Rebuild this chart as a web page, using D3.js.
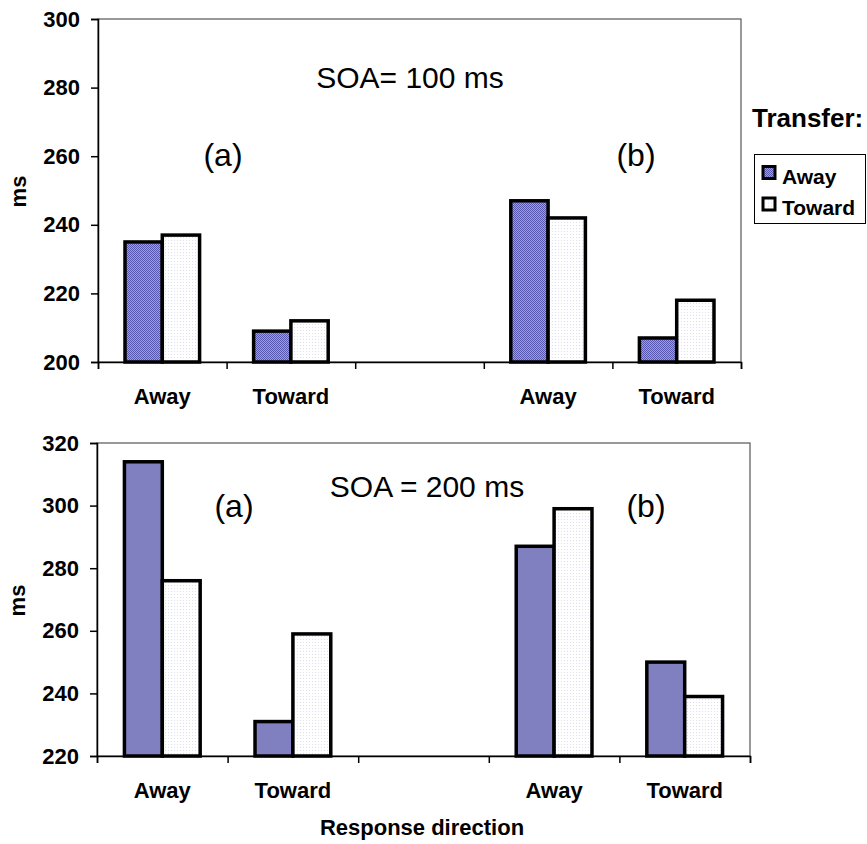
<!DOCTYPE html>
<html>
<head>
<meta charset="utf-8">
<script src="https://cdn.jsdelivr.net/npm/d3@7"></script>
<style>
  body { margin: 0; background: #fff; }
  svg { display: block; font-family: Arial, "Liberation Sans", sans-serif; }
</style>
</head>
<body>
<svg width="867" height="844"></svg>
<script>
// data
const categories = ["Away", "Toward", "", "Away", "Toward"];
const seriesNames = ["Away", "Toward"];

const soa100Away   = [235, 209, null, 247, 207];
const soa100Toward = [237, 212, null, 242, 218];
const soa200Away   = [314, 231, null, 287, 250];
const soa200Toward = [276, 259, null, 299, 239];

const ticks100 = [200, 220, 240, 260, 280, 300];
const ticks200 = [220, 240, 260, 280, 300, 320];

const svg = d3.select("svg");
const defs = svg.append("defs");

// dithered blue like the old excel fill
const dither = defs.append("pattern")
    .attr("id", "blueDither")
    .attr("width", 2).attr("height", 2)
    .attr("patternUnits", "userSpaceOnUse");
dither.append("rect").attr("width", 2).attr("height", 2).attr("fill", "#9c9ce0");
dither.append("rect").attr("width", 1).attr("height", 1).attr("fill", "#5858b0");
dither.append("rect").attr("x", 1).attr("y", 1).attr("width", 1).attr("height", 1).attr("fill", "#5858b0");

const dots = defs.append("pattern")
    .attr("id", "whiteDots")
    .attr("width", 3).attr("height", 3)
    .attr("patternUnits", "userSpaceOnUse");
dots.append("rect").attr("width", 3).attr("height", 3).attr("fill", "#ffffff");
dots.append("rect").attr("width", 1).attr("height", 1).attr("fill", "#dedef0");

const labelFont = "Arial, 'Liberation Sans', sans-serif";

function drawPanel(p) {
    const g = svg.append("g");
    const x = d3.scaleBand().domain(d3.range(categories.length)).range([p.left, p.right]);
    const xs = d3.scaleBand().domain(seriesNames)
        .range([x.bandwidth() * 0.21, x.bandwidth() * 0.79]);
    const y = d3.scaleLinear().domain(p.domain).range([p.bottom, p.top]);

    // plot frame (top + right edges)
    g.append("rect")
        .attr("x", p.left).attr("y", p.top)
        .attr("width", p.right - p.left).attr("height", p.bottom - p.top)
        .attr("fill", "none").attr("stroke", "#555").attr("stroke-width", 1.2);

    const rows = [];
    categories.forEach((c, i) => {
        if (p.away[i] != null) rows.push({ i: i, s: "Away", v: p.away[i] });
        if (p.toward[i] != null) rows.push({ i: i, s: "Toward", v: p.toward[i] });
    });

    g.selectAll(".bar")
        .data(rows)
        .enter().append("rect")
        .attr("class", "bar")
        .attr("x", d => x(d.i) + xs(d.s))
        .attr("y", d => y(d.v))
        .attr("width", xs.bandwidth())
        .attr("height", d => p.bottom - y(d.v))
        .attr("fill", d => d.s === "Away" ? p.awayFill : "url(#whiteDots)")
        .attr("stroke", "#000")
        .attr("stroke-width", 3.5);

    // y axis
    const ya = g.append("g")
        .attr("transform", "translate(" + p.left + ",0)")
        .call(d3.axisLeft(y).tickValues(p.ticks).tickSize(7).tickPadding(11));
    ya.select(".domain").attr("stroke", "#000").attr("stroke-width", 1.5);
    ya.selectAll(".tick line").attr("stroke", "#000").attr("stroke-width", 1.5);
    ya.selectAll(".tick text")
        .attr("font-size", 22).attr("font-weight", "bold")
        .attr("font-family", labelFont).attr("fill", "#000");

    // x axis: ticks between categories
    const xb = d3.scaleLinear().domain([0, categories.length]).range([p.left, p.right]);
    const xa = g.append("g")
        .attr("transform", "translate(0," + p.bottom + ")")
        .call(d3.axisBottom(xb).ticks(categories.length).tickSize(7).tickSizeOuter(7).tickFormat(""));
    xa.select(".domain").attr("stroke", "#000").attr("stroke-width", 1.5);
    xa.selectAll(".tick line").attr("stroke", "#000").attr("stroke-width", 1.5);

    // category labels
    const xl = g.append("g")
        .attr("transform", "translate(0," + p.bottom + ")")
        .call(d3.axisBottom(x).tickSize(0).tickPadding(26).tickFormat(i => categories[i]));
    xl.select(".domain").remove();
    xl.selectAll(".tick text")
        .attr("font-size", 22).attr("font-weight", "bold")
        .attr("font-family", labelFont).attr("fill", "#000");

    g.append("text")
        .attr("transform", "translate(" + p.msX + "," + ((p.top + p.bottom) / 2 + 1) + ") rotate(-90)")
        .attr("text-anchor", "middle")
        .attr("font-size", 22).attr("font-weight", "bold")
        .text("ms");

    g.append("text")
        .attr("x", p.titleX).attr("y", p.titleY)
        .attr("text-anchor", "middle").attr("font-size", 30)
        .text(p.title);

    g.append("text")
        .attr("x", p.aX).attr("y", p.abY)
        .attr("text-anchor", "middle").attr("font-size", 32)
        .text("(a)");
    g.append("text")
        .attr("x", p.bX).attr("y", p.abY)
        .attr("text-anchor", "middle").attr("font-size", 32)
        .text("(b)");
}

drawPanel({
    left: 98, right: 741, top: 19, bottom: 362,
    domain: [200, 300], ticks: ticks100,
    away: soa100Away, toward: soa100Toward,
    awayFill: "url(#blueDither)",
    msX: 26, title: "SOA= 100 ms", titleX: 410, titleY: 88,
    aX: 223, bX: 636, abY: 166
});

drawPanel({
    left: 97, right: 750, top: 443, bottom: 756,
    domain: [220, 320], ticks: ticks200,
    away: soa200Away, toward: soa200Toward,
    awayFill: "#8080c0",
    msX: 25, title: "SOA = 200 ms", titleX: 427, titleY: 497,
    aX: 234, bX: 646, abY: 517
});

svg.append("text")
    .attr("x", 422).attr("y", 835)
    .attr("text-anchor", "middle")
    .attr("font-size", 22).attr("font-weight", "bold")
    .text("Response direction");

// legend
svg.append("text")
    .attr("x", 752).attr("y", 127)
    .attr("font-size", 26).attr("font-weight", "bold")
    .text("Transfer:");

const legend = svg.append("g");
legend.append("rect")
    .attr("x", 754.5).attr("y", 154.5).attr("width", 111).attr("height", 69)
    .attr("fill", "#fff").attr("stroke", "#000").attr("stroke-width", 1);

const items = legend.selectAll(".item")
    .data(seriesNames)
    .enter().append("g")
    .attr("class", "item")
    .attr("transform", (d, i) => "translate(0," + (i * 31.5) + ")");
items.append("rect")
    .attr("x", 763).attr("y", 166.5).attr("width", 12).attr("height", 12)
    .attr("fill", d => d === "Away" ? "url(#blueDither)" : "url(#whiteDots)")
    .attr("stroke", "#000").attr("stroke-width", 3);
items.append("text")
    .attr("x", 782).attr("y", 183.5)
    .attr("font-size", 21).attr("font-weight", "bold")
    .text(d => d);
</script>
</body>
</html>
